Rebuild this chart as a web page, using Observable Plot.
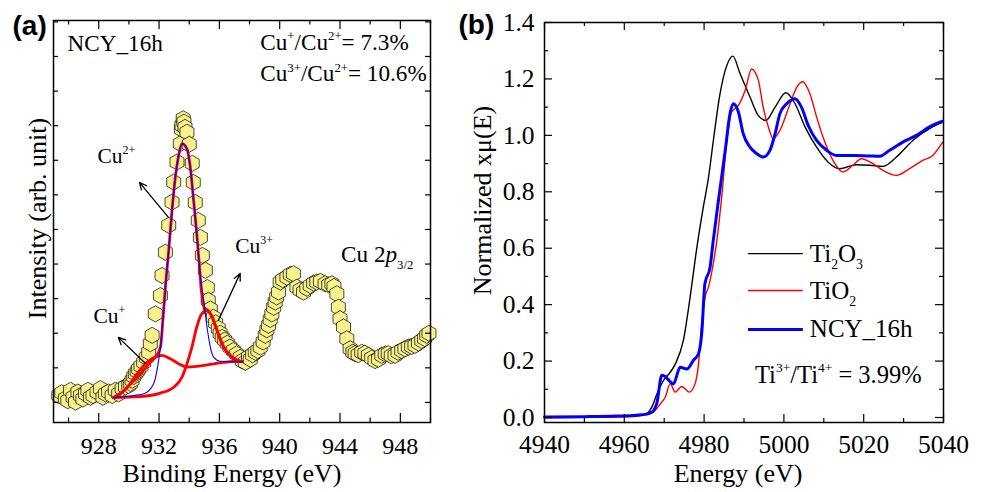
<!DOCTYPE html>
<html>
<head>
<meta charset="utf-8">
<script src="https://cdn.jsdelivr.net/npm/d3@7"></script>
<script src="https://cdn.jsdelivr.net/npm/@observablehq/plot@0.6"></script>
<style>
  html, body { margin: 0; padding: 0; background: #fff; }
  #wrap { position: relative; width: 984px; height: 492px; overflow: hidden; background: #fff; }
  #pa { position: absolute; left: 0; top: 0; width: 450px; height: 492px; }
  #pb { position: absolute; left: 450px; top: 0; width: 534px; height: 492px; }
</style>
</head>
<body>
<div id="wrap"><div id="pa"></div><div id="pb"></div></div>
<script>
// ---------------- Panel (a): XPS Cu 2p3/2 ----------------
const xpsEnergy = [925.35, 925.55, 925.79, 925.95, 926.13, 926.30, 926.46, 926.62, 926.79, 926.95,
  927.12, 927.28, 927.45, 927.62, 927.89, 928.11, 928.28, 928.44, 928.65, 928.89,
  929.10, 929.32, 929.55, 929.77, 929.99, 930.10, 930.21, 930.32, 930.43, 930.55,
  930.65, 930.80, 930.98, 931.15, 931.31, 931.42, 931.54, 931.75, 932.09, 932.20,
  932.42, 932.64, 932.86, 932.97, 933.19, 933.41, 933.48, 933.52, 933.60, 933.65,
  933.72, 933.85, 934.00, 934.20, 934.27, 934.40, 934.60, 934.74, 934.87, 935.07,
  935.20, 935.26, 935.40, 935.60, 935.75, 935.93, 936.05, 936.19, 936.35, 936.52,
  936.70, 936.92, 937.15, 937.38, 937.52, 937.72, 937.93, 938.05, 938.20, 938.38,
  938.55, 938.71, 938.90, 939.04, 939.15, 939.26, 939.37, 939.48, 939.60, 939.70,
  939.80, 939.92, 940.03, 940.20, 940.48, 940.70, 940.91, 941.14, 941.35, 941.58,
  941.80, 942.02, 942.25, 942.46, 942.70, 943.01, 943.25, 943.46, 943.60, 943.79,
  943.89, 944.00, 944.23, 944.45, 944.67, 944.85, 945.00, 945.20, 945.44, 945.65,
  945.88, 946.10, 946.32, 946.55, 946.77, 947.00, 947.20, 947.40, 947.65, 947.85,
  948.09, 948.30, 948.53, 948.75, 948.97, 949.20, 949.42, 949.60, 949.75, 949.90];
const xpsIntensity = [0.20, 0.28, 0.11, 0.05, 0.35, 0.15, 0.01, 0.30, 0.20, 0.10,
  0.25, 0.35, 0.15, 0.20, 0.30, 0.40, 0.15, 0.25, 0.30, 0.20,
  0.35, 0.25, 0.40, 0.45, 0.49, 0.55, 0.64, 0.75, 0.83, 0.90,
  0.97, 1.05, 1.16, 1.30, 1.45, 1.70, 1.94, 2.56, 3.09, 3.67,
  4.34, 5.12, 5.79, 6.37, 6.95, 7.48, 7.90, 8.01, 8.20, 8.10,
  7.95, 7.81, 7.46, 6.91, 6.36, 5.78, 5.26, 4.77, 4.25, 3.82,
  3.32, 2.95, 2.70, 2.46, 2.30, 2.14, 2.00, 1.88, 1.80, 1.71,
  1.60, 1.50, 1.40, 1.30, 1.20, 1.16, 1.31, 1.25, 1.38, 1.45,
  1.50, 1.60, 1.75, 1.94, 2.10, 2.23, 2.40, 2.56, 2.75, 2.90,
  3.05, 3.19, 3.48, 3.55, 3.62, 3.70, 3.72, 3.33, 3.25, 3.19,
  3.30, 3.38, 3.45, 3.48, 3.50, 3.43, 3.40, 3.43, 3.35, 3.14,
  2.75, 2.42, 2.18, 1.84, 1.55, 1.45, 1.41, 1.38, 1.45, 1.42,
  1.36, 1.28, 1.21, 1.25, 1.36, 1.40, 1.41, 1.35, 1.36, 1.45,
  1.50, 1.55, 1.60, 1.62, 1.65, 1.72, 1.79, 1.85, 1.94, 2.00];

// fit envelope (sum)
const envEnergy = [928.97, 929.50, 929.90, 930.30, 930.76, 931.10, 931.42, 931.75, 932.09, 932.27,
  932.42, 932.64, 932.86, 933.08, 933.30, 933.52, 933.85, 934.07, 934.29, 934.50,
  934.68, 934.83, 935.00, 935.18, 935.51, 935.84, 936.28, 936.83, 937.38, 937.52];
const envIntensity = [0.14, 0.27, 0.44, 0.62, 0.83, 1.00, 1.16, 1.31, 1.59, 2.47,
  3.33, 4.39, 5.55, 6.51, 7.14, 7.48, 7.33, 6.80, 5.84, 4.88,
  3.91, 3.14, 2.74, 2.68, 2.49, 2.09, 1.61, 1.31, 1.19, 1.18];
// Cu2+ component
const cu2Energy = [928.97, 930.32, 931.00, 931.64, 931.90, 932.09, 932.27, 932.42, 932.64, 932.86,
  933.08, 933.30, 933.52, 933.85, 934.07, 934.29, 934.50, 934.68, 934.83, 934.96,
  935.18, 935.40, 935.62, 936.06, 937.38, 937.52];
const cu2Intensity = [0.14, 0.20, 0.25, 0.54, 1.02, 1.59, 2.47, 3.33, 4.39, 5.55,
  6.51, 7.14, 7.48, 7.33, 6.80, 5.84, 4.88, 3.91, 3.30, 2.95,
  2.18, 1.60, 1.31, 1.19, 1.17, 1.18];
// Cu+ component
const cu1Energy = [928.97, 929.90, 930.54, 931.20, 931.75, 932.20, 932.75, 933.30, 933.85, 934.50,
  935.40, 936.28, 937.38, 937.52];
const cu1Intensity = [0.14, 0.44, 0.83, 1.16, 1.31, 1.36, 1.26, 1.12, 1.02, 1.04,
  1.10, 1.16, 1.19, 1.18];
// Cu3+ component
const cu3Energy = [928.97, 930.76, 932.09, 932.97, 933.52, 933.85, 934.18, 934.50, 934.83, 935.18,
  935.51, 935.84, 936.28, 936.83, 937.38, 937.52];
const cu3Intensity = [0.14, 0.17, 0.27, 0.44, 0.73, 1.12, 1.60, 2.18, 2.56, 2.66,
  2.47, 2.08, 1.60, 1.31, 1.19, 1.18];

const xTicksMajorA = [928, 932, 936, 940, 944, 948];
const xTicksMinorA = [926, 930, 934, 938, 942, 946, 950];
const yTicksA = [0, 1, 2, 3, 4, 5, 6, 7, 8, 9, 10, 11];

// annotations (a)
const noteTextA = ["NCY_16h", "Cu^{+}/Cu^{2+}= 7.3%", "Cu^{3+}/Cu^{2+}= 10.6%", "Cu 2*p*_{3/2}"];
const noteEA = [925.93, 938.71, 938.71, 944.07];
const noteIA = [10.17, 10.20, 9.28, 4.05];
const peakLabels = ["Cu^{2+}", "Cu^{3+}", "Cu^{+}"];
const peakLabelE = [927.91, 937.05, 927.65];
const peakLabelI = [6.91, 4.31, 2.31];
const arrowFromE = [932.62, 935.93, 931.09];
const arrowFromI = [5.35, 2.37, 1.13];
const arrowToE = [930.70, 937.38, 929.30];
const arrowToI = [6.36, 3.73, 1.88];

// ---------------- Panel (b): XANES Ti K-edge ----------------
const ti2o3E = [4940, 4950, 4958, 4962, 4965.2, 4966.9, 4968.2, 4969.8, 4971.5, 4972.8,
  4974.8, 4976.5, 4978.2, 4979.8, 4981.1, 4982.3, 4984.0, 4985.7, 4987.2, 4989.0,
  4991.5, 4993.6, 4995.5, 4997.8, 5000.5, 5002.8, 5005.3, 5008.2, 5011.1, 5014.0,
  5018.2, 5021.5, 5024.8, 5028.2, 5032.3, 5036.5, 5039.8];
const ti2o3Mu = [0.000, 0.001, 0.003, 0.005, 0.011, 0.037, 0.084, 0.131, 0.160, 0.190,
  0.273, 0.427, 0.604, 0.746, 0.850, 0.980, 1.148, 1.248, 1.281, 1.219,
  1.136, 1.070, 1.053, 1.100, 1.151, 1.112, 1.030, 0.958, 0.905, 0.882,
  0.896, 0.894, 0.890, 0.923, 0.982, 1.024, 1.047];
const tio2E = [4940, 4950, 4958, 4963, 4965.7, 4967.3, 4969.0, 4970.25, 4971.5, 4972.75,
  4974.4, 4976.3, 4977.75, 4978.6, 4979.4, 4980.25, 4981.1, 4982.3, 4983.2, 4984.4,
  4985.7, 4986.9, 4988.6, 4990.3, 4991.9, 4993.6, 4994.8, 4996.1, 4997.3, 4999.0,
  5001.5, 5003.2, 5004.7, 5006.5, 5008.2, 5009.8, 5012.3, 5014.8, 5017.3, 5019.4,
  5022.3, 5024.8, 5028.2, 5031.5, 5034.8, 5037.3, 5039.8];
const tio2Mu = [0.000, 0.001, 0.002, 0.004, 0.011, 0.019, 0.048, 0.072, 0.120, 0.090,
  0.110, 0.090, 0.120, 0.190, 0.332, 0.427, 0.462, 0.545, 0.628, 0.780,
  0.980, 1.083, 1.106, 1.160, 1.235, 1.195, 1.100, 1.030, 0.988, 1.018,
  1.110, 1.170, 1.190, 1.148, 1.065, 0.994, 0.911, 0.870, 0.894, 0.917,
  0.900, 0.876, 0.858, 0.882, 0.911, 0.929, 0.976];
const ncyE = [4940, 4950, 4958, 4963, 4965.5, 4966.9, 4968.2, 4969.4, 4970.3, 4971.3,
  4972.3, 4974.0, 4975.7, 4977.3, 4978.6, 4979.4, 4980.2, 4981.5, 4982.3, 4983.6,
  4985.3, 4986.5, 4987.3, 4988.6, 4989.8, 4991.5, 4993.2, 4994.8, 4996.5, 4997.8,
  4999.0, 5000.7, 5002.8, 5004.4, 5006.1, 5008.2, 5010.7, 5013.2, 5017.3, 5021.5,
  5024.0, 5026.5, 5029.8, 5033.2, 5036.5, 5039.8];
const ncyMu = [0.002, 0.003, 0.005, 0.008, 0.012, 0.019, 0.054, 0.150, 0.145, 0.130,
  0.119, 0.178, 0.172, 0.202, 0.226, 0.297, 0.474, 0.533, 0.628, 0.770,
  0.947, 1.077, 1.112, 1.083, 1.006, 0.958, 0.935, 0.923, 0.947, 1.006,
  1.077, 1.112, 1.130, 1.100, 1.035, 0.982, 0.947, 0.929, 0.929, 0.927,
  0.926, 0.947, 0.976, 1.000, 1.030, 1.050];

const seriesNames = ["Ti_{2}O_{3}", "TiO_{2}", "NCY_16h"];
const seriesColors = ["#000000", "#ff0000", "#0000ff"];
const seriesWidths = [1.4, 1.4, 3];

const xTicksMajorB = [4940, 4960, 4980, 5000, 5020, 5040];
const xTicksMinorB = [4950, 4970, 4990, 5010, 5030];
const yTicksMajorB = [0, 0.2, 0.4, 0.6, 0.8, 1.0, 1.2, 1.4];
const yTicksMinorB = [0.1, 0.3, 0.5, 0.7, 0.9, 1.1, 1.3];
const ratioTextB = "Ti^{3+}/Ti^{4+} = 3.99%";

// ---------------- helpers ----------------
const zip = (xs, ys) => xs.map((x, i) => ({x, y: ys[i]}));
const serif = "'Liberation Serif', 'Times New Roman', serif";
const sans = "'Liberation Sans', Arial, sans-serif";

function tickRules(vals, dir, len, FW, FH) {
  const s = {stroke: "#000", strokeWidth: 1.2};
  if (dir === "x") return [
    Plot.ruleX(vals, {x: d => d, insetTop: FH - len, ...s}),
    Plot.ruleX(vals, {x: d => d, insetBottom: FH - len, ...s})
  ];
  return [
    Plot.ruleY(vals, {y: d => d, insetRight: FW - len, ...s}),
    Plot.ruleY(vals, {y: d => d, insetLeft: FW - len, ...s})
  ];
}

function richify(root) {
  root.querySelectorAll("text").forEach(t => {
    const s = t.textContent;
    if (!/\^\{|_\{|\*/.test(s)) return;
    const fs = parseFloat(getComputedStyle(t).fontSize) || 20;
    const re = /\^\{([^}]*)\}|_\{([^}]*)\}|\*([^*]*)\*/g;
    const parts = []; let last = 0, m;
    while ((m = re.exec(s))) {
      if (m.index > last) parts.push({k: "n", s: s.slice(last, m.index)});
      if (m[1] !== undefined) parts.push({k: "sup", s: m[1]});
      else if (m[2] !== undefined) parts.push({k: "sub", s: m[2]});
      else parts.push({k: "it", s: m[3]});
      last = re.lastIndex;
    }
    if (last < s.length) parts.push({k: "n", s: s.slice(last)});
    while (t.firstChild) t.removeChild(t.firstChild);
    let cur = 0;
    for (const p of parts) {
      const ts = document.createElementNS("http://www.w3.org/2000/svg", "tspan");
      const shift = p.k === "sup" ? -0.42 * fs : p.k === "sub" ? 0.28 * fs : 0;
      if (shift !== cur) ts.setAttribute("dy", (shift - cur).toFixed(2));
      cur = shift;
      if (p.k === "sup" || p.k === "sub") ts.setAttribute("font-size", (0.55 * fs).toFixed(2));
      if (p.k === "it") ts.setAttribute("font-style", "italic");
      ts.textContent = p.s;
      t.appendChild(ts);
    }
  });
}

// ---------------- Plot (a) ----------------
const WA = 450, HA = 492;
const mA = {top: 20, right: 20, bottom: 70, left: 53};
const FWA = WA - mA.left - mA.right, FHA = HA - mA.top - mA.bottom;

const plotA = Plot.plot({
  width: WA, height: HA,
  marginTop: mA.top, marginRight: mA.right, marginBottom: mA.bottom, marginLeft: mA.left,
  style: {fontFamily: serif, background: "transparent", overflow: "visible", color: "#000"},
  x: {domain: [925, 950]},
  y: {domain: [-0.58, 11.04], axis: null},
  marks: [
    Plot.dot(zip(xpsEnergy, xpsIntensity), {x: "x", y: "y", symbol: "hexagon", r: 7,
      fill: "#f6f28c", stroke: "#000", strokeWidth: 0.7}),
    Plot.line(zip(envEnergy, envIntensity), {x: "x", y: "y", stroke: "#ff0000", strokeWidth: 2.8, curve: "monotone-x"}),
    Plot.line(zip(cu1Energy, cu1Intensity), {x: "x", y: "y", stroke: "#ff0000", strokeWidth: 2.8, curve: "monotone-x"}),
    Plot.line(zip(cu3Energy, cu3Intensity), {x: "x", y: "y", stroke: "#ff0000", strokeWidth: 2.8, curve: "monotone-x"}),
    Plot.line(zip(cu2Energy, cu2Intensity), {x: "x", y: "y", stroke: "#0000ff", strokeWidth: 1.1, curve: "monotone-x"}),
    Plot.arrow(arrowFromE.map((e, i) => ({x1: e, y1: arrowFromI[i], x2: arrowToE[i], y2: arrowToI[i]})),
      {x1: "x1", y1: "y1", x2: "x2", y2: "y2", stroke: "#000", strokeWidth: 1.3, headLength: 9, headAngle: 50}),
    Plot.text(noteTextA.map((t, i) => ({t, x: noteEA[i], y: noteIA[i]})),
      {x: "x", y: "y", text: "t", textAnchor: "start", lineAnchor: "bottom", fontSize: 23.2, fontFamily: serif, fill: "#000"}),
    Plot.text(peakLabels.map((t, i) => ({t, x: peakLabelE[i], y: peakLabelI[i]})),
      {x: "x", y: "y", text: "t", textAnchor: "start", lineAnchor: "bottom", fontSize: 21.5, fontFamily: serif, fill: "#000"}),
    ...tickRules(xTicksMajorA, "x", 9, FWA, FHA),
    ...tickRules(xTicksMinorA, "x", 4.5, FWA, FHA),
    ...tickRules(yTicksA, "y", 5, FWA, FHA),
    Plot.axisX(xTicksMajorA, {tickSize: 0, tickPadding: 14, fontSize: 24, fontFamily: serif, label: null, tickFormat: d => String(d)}),
    Plot.frame({stroke: "#000", strokeWidth: 1.5}),
    Plot.text(["Binding Energy (eV)"], {frameAnchor: "bottom", dy: 59, dx: -10, textAnchor: "middle", lineAnchor: "bottom",
      fontSize: 26, fontFamily: serif}),
    Plot.text(["Intensity (arb. unit)"], {frameAnchor: "left", rotate: -90, dx: -16, dy: -3, textAnchor: "middle",
      lineAnchor: "middle", fontSize: 26, fontFamily: serif}),
    Plot.text(["(a)"], {frameAnchor: "top-left", dx: -41, dy: 14, textAnchor: "start", lineAnchor: "bottom",
      fontSize: 28, fontWeight: "bold", fontFamily: sans})
  ]
});

// ---------------- Plot (b) ----------------
const WB = 534, HB = 492;
const mB = {top: 22, right: 41, bottom: 70, left: 94};
const FWB = WB - mB.left - mB.right, FHB = HB - mB.top - mB.bottom;
const legendY = [0.581, 0.450, 0.312];

const plotB = Plot.plot({
  width: WB, height: HB,
  marginTop: mB.top, marginRight: mB.right, marginBottom: mB.bottom, marginLeft: mB.left,
  style: {fontFamily: serif, background: "transparent", overflow: "visible", color: "#000"},
  x: {domain: [4940, 5040]},
  y: {domain: [-0.0177, 1.4]},
  marks: [
    Plot.line(zip(ti2o3E, ti2o3Mu), {x: "x", y: "y", stroke: seriesColors[0], strokeWidth: seriesWidths[0], curve: "monotone-x"}),
    Plot.line(zip(tio2E, tio2Mu), {x: "x", y: "y", stroke: seriesColors[1], strokeWidth: seriesWidths[1], curve: "monotone-x"}),
    Plot.line(zip(ncyE, ncyMu), {x: "x", y: "y", stroke: seriesColors[2], strokeWidth: seriesWidths[2], curve: "monotone-x"}),
    Plot.link(seriesNames.map((n, i) => ({i, y: legendY[i]})),
      {x1: 4991, x2: 5004.75, y1: "y", y2: "y", stroke: d => seriesColors[d.i], strokeWidth: d => seriesWidths[d.i]}),
    Plot.text(seriesNames.map((n, i) => ({n, y: legendY[i]})),
      {x: 5006.5, y: "y", text: "n", textAnchor: "start", fontSize: 25, fontFamily: serif}),
    Plot.text([ratioTextB], {x: 4992.75, y: 0.124, textAnchor: "start", lineAnchor: "bottom", fontSize: 24.5, fontFamily: serif}),
    ...tickRules(xTicksMajorB, "x", 8, FWB, FHB),
    ...tickRules(xTicksMinorB, "x", 4, FWB, FHB),
    ...tickRules(yTicksMajorB, "y", 8, FWB, FHB),
    ...tickRules(yTicksMinorB, "y", 4, FWB, FHB),
    Plot.axisX(xTicksMajorB, {tickSize: 0, tickPadding: 12, fontSize: 25.5, fontFamily: serif, label: null, tickFormat: d => String(d)}),
    Plot.axisY(yTicksMajorB, {tickSize: 0, tickPadding: 10, fontSize: 25.5, fontFamily: serif, label: null, tickFormat: d3.format(".1f")}),
    Plot.frame({stroke: "#000", strokeWidth: 1.5}),
    Plot.text(["Energy (eV)"], {frameAnchor: "bottom", dy: 59, dx: -6, textAnchor: "middle", lineAnchor: "bottom",
      fontSize: 26, fontFamily: serif}),
    Plot.text(["Normalized xμ(E)"], {frameAnchor: "left", rotate: -90, dx: -62, dy: -22, textAnchor: "middle",
      lineAnchor: "middle", fontSize: 26, fontFamily: serif}),
    Plot.text(["(b)"], {frameAnchor: "top-left", dx: -86, dy: 11, textAnchor: "start", lineAnchor: "bottom",
      fontSize: 28, fontWeight: "bold", fontFamily: sans})
  ]
});

document.getElementById("pa").appendChild(plotA);
document.getElementById("pb").appendChild(plotB);
richify(plotA);
richify(plotB);
</script>
</body>
</html>
